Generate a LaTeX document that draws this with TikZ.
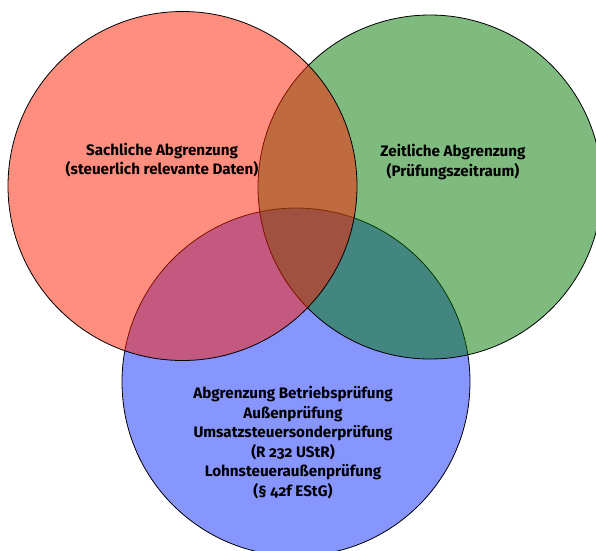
\documentclass[tikz,border=0pt]{standalone}
\usepackage{fontspec}
\setmainfont{Fira Sans}[Numbers=OldStyle]
\usepackage{tikz}
\usetikzlibrary{positioning}
\definecolor{vennred}{RGB}{255,30,0}
\definecolor{venngreen}{RGB}{0,118,0}
\definecolor{vennblue}{RGB}{16,44,255}
\tikzset{
  venn/.style={draw=black,line width=0.8pt,fill opacity=0.5},
  lbl/.style={align=center,inner sep=0pt,font=\fontsize{15.2}{19.5}\selectfont\bfseries}
}

\begin{document}
\begin{tikzpicture}[x=1pt,y=-1pt]
\useasboundingbox (0,0) rectangle (596,550);
%centres
\coordinate (cred) at (182.5,186);
\coordinate (cgreen) at (430,187);
\coordinate (cblue) at (296,382);
%circles, blue first so red ends on top
\draw[venn,fill=vennblue] (cblue) circle [radius=174pt];
\draw[venn,fill=venngreen] (cgreen) circle [radius=172pt];
\draw[venn,fill=vennred] (cred) circle [radius=174.5pt];
%text
\node[lbl] (sach) at (162,160) {Sachliche Abgrenzung\\(steuerlich relevante Daten)};
\node[lbl] (zeit) at (453,162) {Zeitliche Abgrenzung\\(Prüfungszeitraum)};
\node[lbl] (pruef) at (293,442.5) {Abgrenzung Betriebsprüfung\\Außenprüfung\\Umsatzsteuersonderprüfung\\(R 232 UStR)\\Lohnsteueraußenprüfung\\(§ 42f EStG)};
\end{tikzpicture}
\end{document}
